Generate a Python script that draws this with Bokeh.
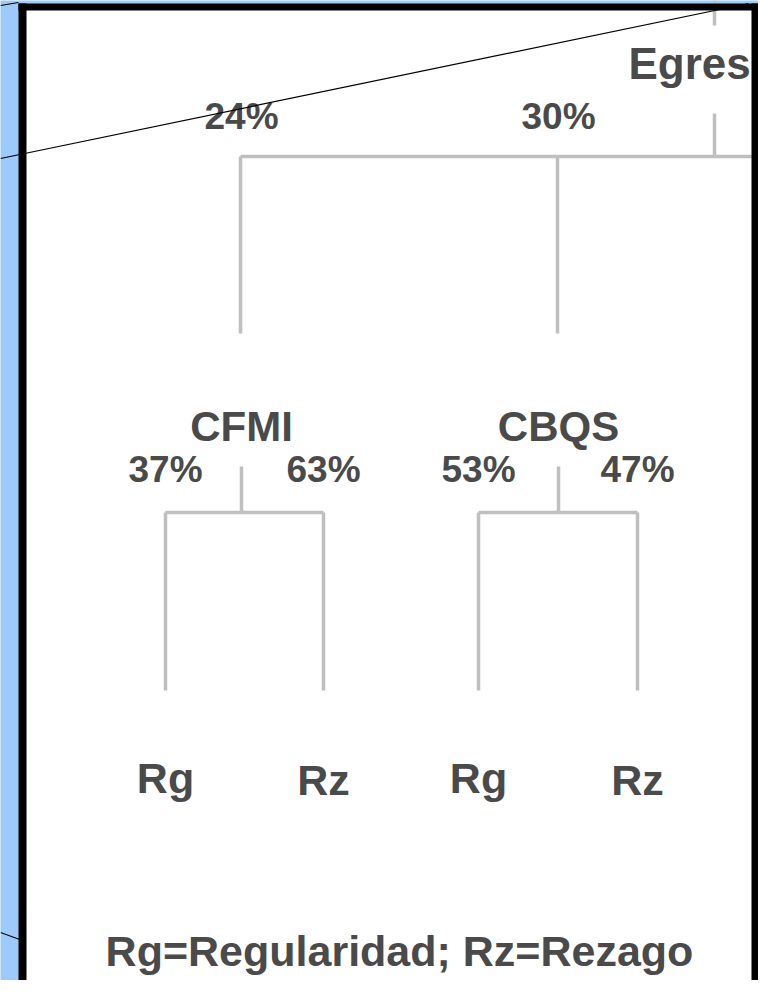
from bokeh.plotting import figure
from bokeh.models import Range1d, ColumnDataSource
from bokeh.core.properties import value
from bokeh.embed import file_html
from bokeh.resources import INLINE

# ---- data ----
root_label = "Egres"          # visible (clipped) part of the root label
level1_labels = ["CFMI", "CBQS"]
level1_share = [24, 30]
level2_shares = [[37, 63], [53, 47]]
leaf_labels = ["Rg", "Rz"]
legend_text = "Rg=Regularidad; Rz=Rezago"

# ---- layout constants ----
BLUE = "#9ccbfa"
TXT = "#4a4a4a"
LINE = "#bfbfbf"
FONT = value("Liberation Sans")
node_x = [241, 558]
child_x = [[165, 323], [478, 637]]

p = figure(width=758, height=980, x_range=Range1d(0, 758), y_range=Range1d(980, 0),
           output_backend="svg", toolbar_location=None, min_border=0)
p.axis.visible = False
p.grid.visible = False
p.outline_line_color = None
p.background_fill_color = BLUE
p.border_fill_color = BLUE

# white panel
p.quad(left=22, right=760, top=6, bottom=1000, fill_color="white", line_color=None)

# connector lines
x0, y0, x1, y1 = [], [], [], []
x0 += [node_x[0] - 1, 714, 714]; y0 += [156, 156, 0]; x1 += [780, 714, 714]; y1 += [156, 113, 25]
for i, nx in enumerate(node_x):
    x0.append(nx - 1); y0.append(156); x1.append(nx - 1); y1.append(333)
    x0.append(nx); y0.append(466); x1.append(nx); y1.append(512)
    lx, rx = child_x[i]
    x0.append(lx); y0.append(512); x1.append(rx); y1.append(512)
    x0 += [lx, rx]; y0 += [512, 512]; x1 += [lx, rx]; y1 += [690, 690]
p.segment(x0=x0, y0=y0, x1=x1, y1=y1, line_color=LINE, line_width=3.5)

common = dict(text_font=FONT, text_font_style="bold", text_color=TXT,
              text_baseline="middle")

# level-1 shares
pct_src = ColumnDataSource(dict(x=node_x, y=[116] * len(node_x),
                                t=[f"{v}%" for v in level1_share]))
p.text("x", "y", text="t", source=pct_src, text_font_size="37px", text_align="center", **common)

# level-1 node labels
node_src = ColumnDataSource(dict(x=node_x, y=[426] * len(node_x), t=level1_labels))
p.text("x", "y", text="t", source=node_src, text_font_size="42px", text_align="center", **common)

cx, cy, ct, lfx, lfy, lft = [], [], [], [], [], []
for i in range(len(node_x)):
    for j in range(2):
        xx = child_x[i][j]
        cx.append(xx); cy.append(469); ct.append(f"{level2_shares[i][j]}%")
        lfx.append(xx); lfy.append(777 if j == 0 else 779); lft.append(leaf_labels[j])
p.text(cx, cy, text=ct, text_font_size="37px", text_align="center", **common)
p.text(lfx, lfy, text=lft, text_font_size="43px", text_align="center", **common)

p.text([628], [63], text=[root_label], text_font_size="44px", text_align="left", **common)

p.text([399], [950], text=[legend_text], text_font_size="43px", text_align="center", **common)

# black frame (right edge kept inside the drawing area)
p.quad(left=[18, 18, 751], right=[26, 764, 764], top=[3, 3, 3],
       bottom=[1000, 10, 1000], fill_color="black", line_color=None)

# thin diagonal lines
p.segment(x0=[0, 0, 0], y0=[158, 5, 932], x1=[748, 18, 22], y1=[3, 2, 940],
          line_color="black", line_width=1.2)

open("out.html", "w").write(file_html(p, INLINE))
